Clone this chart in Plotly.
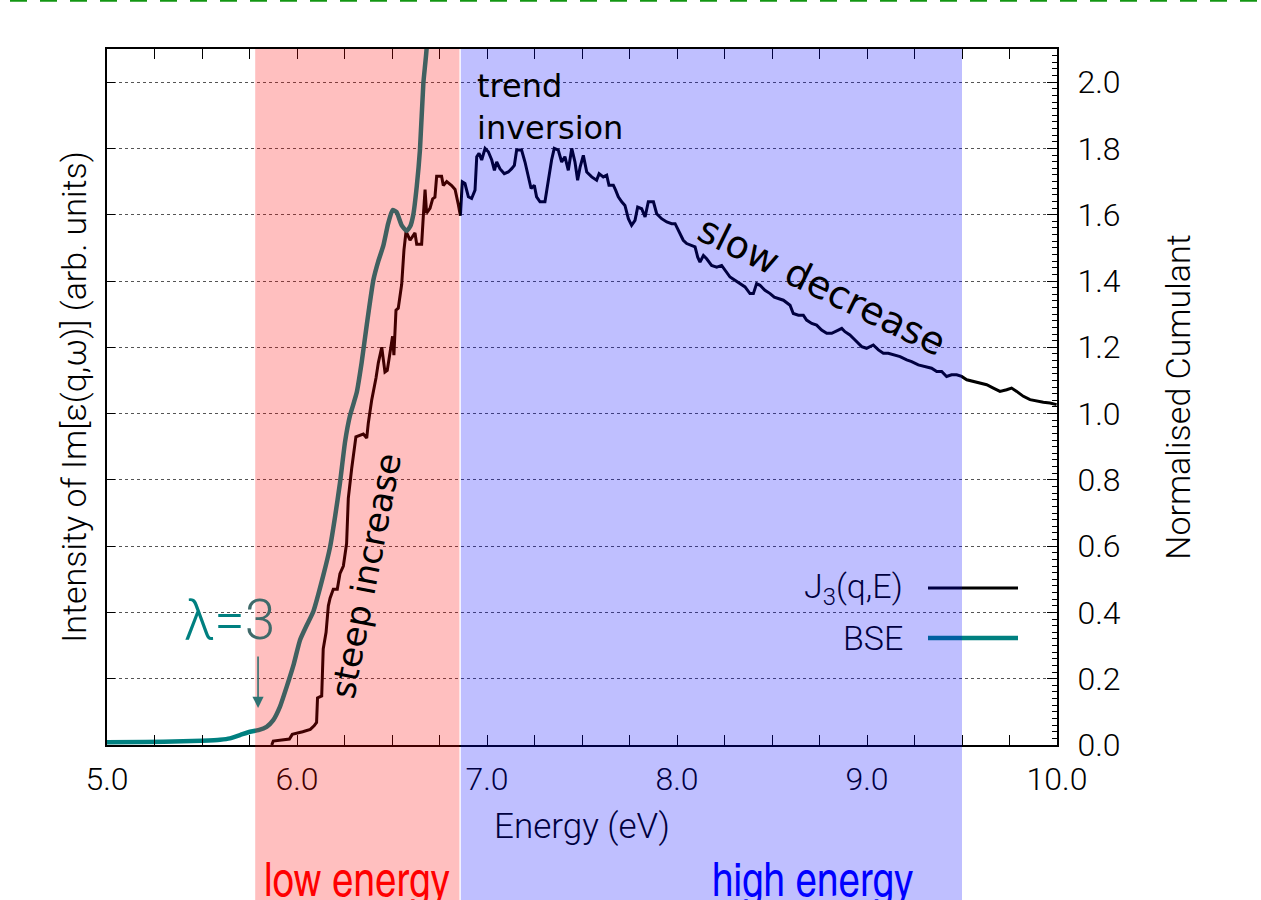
import plotly.graph_objects as go

# ---------------- data ----------------
# J3(q,E): normalised cumulant (right axis)
j3_energy = [5.867, 5.875, 5.96, 5.975, 6.03, 6.07, 6.09, 6.103, 6.108, 6.13, 6.138, 6.153, 6.165,
             6.174, 6.191, 6.212, 6.226, 6.244, 6.261, 6.27, 6.288, 6.31, 6.349, 6.367, 6.375, 6.393,
             6.416, 6.428, 6.446, 6.463, 6.475, 6.49, 6.503, 6.51, 6.521, 6.533, 6.551, 6.563, 6.574,
             6.595, 6.621, 6.63, 6.656, 6.665, 6.674, 6.682, 6.7, 6.714, 6.726, 6.735, 6.761, 6.77,
             6.788, 6.814, 6.832, 6.849, 6.86,
             6.87, 6.884, 6.902, 6.919, 6.937, 6.946, 6.958, 6.972, 6.99, 7.007, 7.025, 7.039, 7.051,
             7.068, 7.091, 7.112, 7.13, 7.144, 7.156, 7.182, 7.2, 7.218, 7.232, 7.249, 7.261, 7.279,
             7.305, 7.323, 7.34, 7.354, 7.375, 7.393, 7.41, 7.428, 7.446, 7.463, 7.477, 7.49, 7.507,
             7.525, 7.551, 7.577, 7.59, 7.612, 7.63, 7.642, 7.665, 7.677, 7.691, 7.709, 7.726, 7.744,
             7.761, 7.779, 7.793, 7.814, 7.832, 7.849, 7.876, 7.893, 7.919, 7.946, 7.972, 7.99, 8.011,
             8.033, 8.051, 8.077, 8.095, 8.109, 8.121, 8.139, 8.156, 8.182, 8.209, 8.235, 8.256, 8.279,
             8.305, 8.332, 8.358, 8.384, 8.402, 8.419, 8.437, 8.463, 8.49, 8.512,
             8.533, 8.56, 8.595, 8.612, 8.639, 8.665, 8.682, 8.709, 8.735, 8.761, 8.788, 8.814, 8.849,
             8.867, 8.884, 8.91, 8.937, 8.972, 8.998, 9.033, 9.06, 9.086, 9.112, 9.138, 9.174, 9.209,
             9.235, 9.27, 9.305, 9.34, 9.367, 9.393, 9.419, 9.445, 9.472, 9.498, 9.525, 9.56, 9.595,
             9.63, 9.665, 9.7, 9.735, 9.761, 9.788, 9.823, 9.858, 9.893, 9.928, 9.963, 9.998]
j3_value = [0.0, 0.012, 0.018, 0.032, 0.04, 0.047, 0.058, 0.068, 0.142, 0.148, 0.29, 0.34, 0.42,
            0.443, 0.47, 0.47, 0.517, 0.54, 0.608, 0.744, 0.835, 0.93, 0.938, 0.926, 0.97, 1.04,
            1.108, 1.153, 1.2, 1.125, 1.13, 1.193, 1.233, 1.176, 1.312, 1.318, 1.39, 1.494, 1.55,
            1.523, 1.545, 1.511, 1.511, 1.597, 1.676, 1.605, 1.619, 1.648, 1.653, 1.716, 1.716, 1.688,
            1.7, 1.688, 1.676, 1.631, 1.597,
            1.699, 1.694, 1.654, 1.649, 1.674, 1.775, 1.785, 1.765, 1.8, 1.79, 1.765, 1.734, 1.759,
            1.739, 1.724, 1.729, 1.739, 1.749, 1.795, 1.795, 1.759, 1.714, 1.679, 1.689, 1.654, 1.639,
            1.639, 1.704, 1.765, 1.8, 1.795, 1.759, 1.775, 1.734, 1.8, 1.759, 1.704, 1.744, 1.779,
            1.729, 1.714, 1.704, 1.724, 1.714, 1.719, 1.689, 1.689, 1.674, 1.654, 1.639, 1.628, 1.588,
            1.568, 1.583, 1.623, 1.618, 1.593, 1.639, 1.639, 1.603, 1.588, 1.578, 1.573, 1.573, 1.548,
            1.523, 1.513, 1.508, 1.503, 1.472, 1.457, 1.477, 1.467, 1.447, 1.442, 1.447, 1.432, 1.412,
            1.402, 1.392, 1.382, 1.362, 1.362, 1.392, 1.387, 1.372, 1.362, 1.351,
            1.347, 1.342, 1.327, 1.302, 1.297, 1.297, 1.282, 1.272, 1.267, 1.252, 1.242, 1.242, 1.252,
            1.257, 1.247, 1.237, 1.222, 1.202, 1.197, 1.207, 1.192, 1.182, 1.182, 1.177, 1.172, 1.162,
            1.157, 1.147, 1.142, 1.137, 1.127, 1.127, 1.112, 1.117, 1.117, 1.112, 1.102, 1.097, 1.092,
            1.087, 1.077, 1.067, 1.072, 1.077, 1.067, 1.052, 1.042, 1.037, 1.034, 1.032, 1.027]

# BSE: Im[eps] intensity (left axis, arbitrary units)
bse_energy = [5.0, 5.2, 5.4, 5.5, 5.595, 5.647, 5.7, 5.753, 5.797, 5.84, 5.875, 5.91, 5.946, 5.981,
              6.016, 6.05, 6.086, 6.138, 6.174, 6.2, 6.226, 6.253, 6.279, 6.314, 6.34, 6.367, 6.402,
              6.428, 6.454, 6.48, 6.503, 6.524, 6.551, 6.577, 6.596, 6.612, 6.63, 6.647, 6.665, 6.682,
              6.70]
bse_value = [0.008, 0.009, 0.011, 0.013, 0.016, 0.02, 0.03, 0.04, 0.045, 0.055, 0.075, 0.115, 0.176,
             0.24, 0.317, 0.36, 0.403, 0.511, 0.597, 0.6875, 0.79, 0.915, 0.994, 1.0625, 1.153, 1.267,
             1.403, 1.46, 1.506, 1.574, 1.614, 1.608, 1.568, 1.551, 1.565, 1.6, 1.684, 1.795, 1.996,
             2.1, 2.4]

low_region = [5.78, 6.855]
high_region = [6.862, 9.5]

series_names = ["J<sub>3</sub>(q,E)", "BSE"]

# ---------------- figure ----------------
W, H = 1261, 900
ML, MR, MT, MB = 107, 204, 49, 155
PW, PH = W - ML - MR, H - MT - MB

def px_x(p):  # paper coordinate from pixel x
    return (p - ML) / PW

def px_y(p):  # paper coordinate from pixel y
    return (H - MB - p) / PH

TEAL = "#008080"
SANS = "Roboto Light, Liberation Sans, Arial, sans-serif"
DEJA = "DejaVu Sans, sans-serif"
COND = "TeX Gyre Heros Cn, Archivo Narrow, DejaVu Sans Condensed, sans-serif"

fig = go.Figure()
fig.add_trace(go.Scatter(x=j3_energy, y=j3_value, mode="lines", name="J3(q,E)",
                         line=dict(color="black", width=3), yaxis="y", showlegend=False,
                         hoverinfo="skip"))
fig.add_trace(go.Scatter(x=bse_energy, y=bse_value, mode="lines", name="BSE",
                         line=dict(color=TEAL, width=4.5, shape="spline", smoothing=0.5),
                         yaxis="y2", showlegend=False, hoverinfo="skip"))

axis_common = dict(showline=True, linecolor="black", linewidth=2, zeroline=False,
                   tickcolor="black", tickwidth=1)

fig.update_layout(
    width=W, height=H, autosize=False,
    margin=dict(l=ML, r=MR, t=MT, b=MB, pad=0),
    paper_bgcolor="white", plot_bgcolor="white",
    font=dict(family=SANS, size=31, color="black"),
    xaxis=dict(range=[5, 10], tick0=5, dtick=1, tickformat=".1f", ticks="inside", ticklen=10,
               mirror="allticks", showgrid=False,
               minor=dict(dtick=0.25, tick0=5, ticks="inside", ticklen=5, tickcolor="black",
                          showgrid=False),
               tickfont=dict(family=SANS, size=32), ticklabelstandoff=5,
               title=dict(text="Energy (eV)", font=dict(family=SANS, size=35, color="#000040"),
                          standoff=16),
               **axis_common),
    yaxis=dict(range=[0, 2.1], tick0=0, dtick=0.2, tickformat=".1f", side="right",
               ticks="inside", ticklen=10,
               minor=dict(dtick=0.02, tick0=0, ticks="inside", ticklen=5, tickcolor="black",
                          showgrid=False),
               showgrid=True, gridcolor="#555555", griddash="dot", gridwidth=1,
               tickfont=dict(family=SANS, size=32), ticklabelstandoff=12,
               title=dict(text="Normalised Cumulant", font=dict(family=SANS, size=34),
                          standoff=46),
               **axis_common),
    yaxis2=dict(range=[0, 2.1], tick0=0, dtick=0.2, overlaying="y", side="left",
                ticks="inside", ticklen=8, showticklabels=False, showgrid=False,
                title=dict(text="Intensity of Im[ε(q,ω)] (arb. units)",
                           font=dict(family=SANS, size=34), standoff=8),
                **axis_common),
)

shapes = []
# legend keys (drawn under the tinted bands, like the reference)
shapes.append(dict(type="line", xref="paper", yref="paper", x0=px_x(928), x1=px_x(1018),
                   y0=px_y(588), y1=px_y(588), line=dict(color="black", width=3), layer="above"))
shapes.append(dict(type="line", xref="paper", yref="paper", x0=px_x(928), x1=px_x(1018),
                   y0=px_y(638), y1=px_y(638), line=dict(color=TEAL, width=4.5), layer="above"))
# energy bands (translucent, on top of everything in the plot)
shapes.append(dict(type="rect", xref="x", yref="paper", x0=low_region[0], x1=low_region[1],
                   y0=px_y(H + 20), y1=1, fillcolor="red", opacity=0.25, line=dict(width=0),
                   layer="above"))
shapes.append(dict(type="rect", xref="x", yref="paper", x0=high_region[0], x1=high_region[1],
                   y0=px_y(H + 20), y1=1, fillcolor="blue", opacity=0.25, line=dict(width=0),
                   layer="above"))
# green dashed frame line at top of page
shapes.append(dict(type="line", xref="paper", yref="paper", x0=px_x(10), x1=px_x(W),
                   y0=px_y(0), y1=px_y(0), line=dict(color="#139613", width=3.5, dash="17px,13px"),
                   layer="above"))
fig.update_layout(shapes=shapes)

ann = []
ann.append(dict(text="trend<br>inversion", x=6.937, y=1.925, xref="x", yref="y",
                xanchor="left", yanchor="middle", align="left", showarrow=False,
                font=dict(family=DEJA, size=32, color="black")))
ann.append(dict(text="slow decrease", x=8.763, y=1.385, xref="x", yref="y", textangle=26,
                xanchor="center", yanchor="middle", showarrow=False,
                font=dict(family=DEJA, size=38, color="black")))
ann.append(dict(text="steep increase", x=6.363, y=0.513, xref="x", yref="y", textangle=-79,
                xanchor="center", yanchor="middle", showarrow=False,
                font=dict(family=DEJA, size=34, color="black")))
ann.append(dict(text="λ=<span style='color:#3f6a6a'>3</span>", x=5.647, y=0.377, xref="x", yref="y",
                xanchor="center", yanchor="middle", showarrow=False,
                font=dict(family=SANS, size=55, color=TEAL)))
ann.append(dict(text="", x=5.795, y=0.112, xref="x", yref="y", showarrow=True, ax=0, ay=-53,
                arrowhead=2, arrowsize=1.4, arrowwidth=1.6, arrowcolor="#2f7373"))
ann.append(dict(text="low energy", x=(low_region[0] + low_region[1]) / 2, y=px_y(877),
                xref="x", yref="paper", xanchor="center", yanchor="middle", showarrow=False,
                font=dict(family=COND, size=47, color="red")))
ann.append(dict(text="high energy", x=8.711, y=px_y(877),
                xref="x", yref="paper", xanchor="center", yanchor="middle", showarrow=False,
                font=dict(family=COND, size=47, color="blue")))
# legend texts
ann.append(dict(text=series_names[0], x=px_x(905), y=px_y(588), xref="paper", yref="paper",
                xanchor="right", yanchor="middle", showarrow=False,
                font=dict(family=SANS, size=34, color="#000040")))
ann.append(dict(text=series_names[1], x=px_x(905), y=px_y(638), xref="paper", yref="paper",
                xanchor="right", yanchor="middle", showarrow=False,
                font=dict(family=SANS, size=34, color="#000040")))
fig.update_layout(annotations=ann)

fig.write_html("out.html", config={"displayModeBar": False})
